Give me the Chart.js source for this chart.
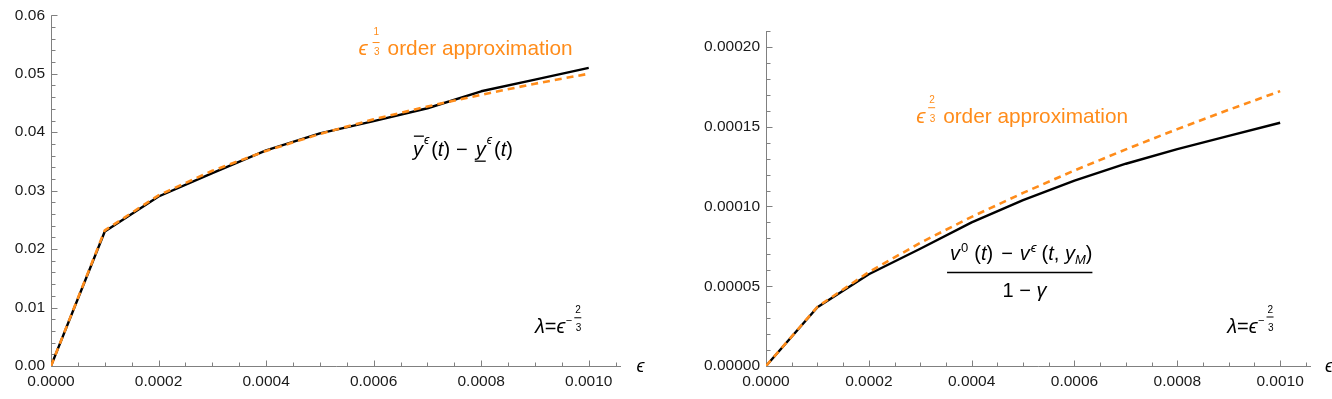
<!DOCTYPE html>
<html><head><meta charset="utf-8">
<script src="https://cdn.jsdelivr.net/npm/chart.js@4.4.1/dist/chart.umd.min.js"></script>
<style>
html,body{margin:0;padding:0;background:#fff;width:1332px;height:399px;overflow:hidden}
#l{position:absolute;left:0;top:0}
#r{position:absolute;left:666px;top:0}
</style></head><body>
<canvas id="l" width="666" height="399"></canvas>
<canvas id="r" width="666" height="399"></canvas>
<script>
// ---------- data ----------
const eps = [0, 0.0001, 0.0002, 0.0003, 0.0004, 0.0005, 0.0006, 0.0007, 0.0008, 0.0009, 0.0010];
const leftExact  = [0, 0.0230, 0.0290, 0.0330, 0.0369, 0.0398, 0.0419, 0.0441, 0.0470, 0.0490, 0.0510];
const leftApprox = [0, 0.0232, 0.0292, 0.0334, 0.0368, 0.0397, 0.0422, 0.0444, 0.0464, 0.0483, 0.0500];
const rightExact  = [0, 0.0000368, 0.0000575, 0.0000735, 0.0000900, 0.0001040, 0.0001162, 0.0001268, 0.0001360, 0.0001443, 0.0001525];
const rightApprox = [0, 0.0000371, 0.0000589, 0.0000772, 0.0000935, 0.0001085, 0.0001226, 0.0001358, 0.0001485, 0.0001606, 0.0001723];

const xTicks = [0, 0.0002, 0.0004, 0.0006, 0.0008, 0.0010];
const xTickLabels = ['0.0000', '0.0002', '0.0004', '0.0006', '0.0008', '0.0010'];
const leftYTicks = [0, 0.01, 0.02, 0.03, 0.04, 0.05, 0.06];
const leftYTickLabels = ['0.00', '0.01', '0.02', '0.03', '0.04', '0.05', '0.06'];
const rightYTicks = [0, 0.00005, 0.00010, 0.00015, 0.00020];
const rightYTickLabels = ['0.00000', '0.00005', '0.00010', '0.00015', '0.00020'];

// ---------- style ----------
const ORANGE = '#ff8c1a';
const AXIS = '#808080';
const FONT = '"Liberation Sans", Arial, "DejaVu Sans", sans-serif';
const EPS = '\u03F5';
const X_MAX = 0.00106;
const LBL = '20.8px ';

function fillT(ctx, t, x, y, font, color) {
  ctx.font = font; ctx.fillStyle = color; ctx.fillText(t, x, y);
  return ctx.measureText(t).width;
}
function seq(ctx, x, y, parts) {
  let cx = x;
  for (const p of parts) {
    cx += p.dx || 0;
    const w = fillT(ctx, p.t, cx, y + (p.dy || 0), p.f, p.c || '#000');
    cx += w;
  }
  return cx;
}
function hline(ctx, x1, x2, y, w, c) {
  ctx.strokeStyle = c; ctx.lineWidth = w;
  ctx.beginPath(); ctx.moveTo(x1, y); ctx.lineTo(x2, y); ctx.stroke();
}
function smallFrac(ctx, x, y, num, den, c, numDy, barDy, denDy) {
  const f = '10px ' + FONT;
  fillT(ctx, num, x + 1, y + numDy, f, c);
  hline(ctx, x, x + 7, y + barDy + 0.5, 1, c);
  fillT(ctx, den, x + 1.5, y + denDy, f, c);
}
function lambdaLabel(ctx, x, y) {
  let cx = seq(ctx, x, y, [
    {t: '\u03BB', f: 'italic 20px ' + FONT},
    {t: '=', f: '20px ' + FONT},
    {t: EPS, f: 'italic 20px ' + FONT}
  ]);
  fillT(ctx, '\u2212', cx + 0.5, y - 9, '11px ' + FONT, '#000');
  smallFrac(ctx, cx + 9, y, '2', '3', '#000', -20, -16, -2);
}

function axesPlugin(cfg) {
  return {
    id: 'mAxes',
    beforeDatasetsDraw(chart) {
      const ctx = chart.ctx, xs = chart.scales.x, ys = chart.scales.y, a = chart.chartArea;
      const x0 = Math.round(xs.getPixelForValue(0)) + 0.5;
      const y0 = Math.round(ys.getPixelForValue(0)) + 0.5;
      ctx.save();
      ctx.strokeStyle = AXIS; ctx.lineWidth = 1;
      ctx.beginPath();
      ctx.moveTo(x0, a.top); ctx.lineTo(x0, y0); ctx.lineTo(a.right, y0);
      ctx.stroke();
      ctx.beginPath();
      for (let k = 0; k * 0.00005 <= X_MAX + 1e-12; k++) {
        const v = k * 0.00005;
        const px = Math.round(xs.getPixelForValue(v)) + 0.5;
        const len = (k % 4 === 0) ? 6 : 4;
        ctx.moveTo(px, y0); ctx.lineTo(px, y0 - len);
      }
      for (let k = 0; k * cfg.yMinor <= cfg.ymax + 1e-12; k++) {
        const v = k * cfg.yMinor;
        const py = Math.round(ys.getPixelForValue(v)) + 0.5;
        const len = (k % 5 === 0) ? 6 : 4;
        ctx.moveTo(x0, py); ctx.lineTo(x0 + len, py);
      }
      ctx.stroke();
      ctx.restore();
    },
    afterDraw(chart) {
      const ctx = chart.ctx, xs = chart.scales.x, ys = chart.scales.y;
      ctx.save();
      ctx.textBaseline = 'alphabetic'; ctx.textAlign = 'left';
      cfg.annotate(ctx, (vx) => xs.getPixelForValue(vx), (vy) => ys.getPixelForValue(vy), chart);
      ctx.restore();
    }
  };
}

function makeChart(id, cfg) {
  const tickFont = {family: FONT, size: 15.5};
  return new Chart(document.getElementById(id), {
    type: 'scatter',
    data: {
      datasets: [
        {data: eps.map((x, i) => ({x, y: cfg.approx[i]})), showLine: true, borderColor: ORANGE,
         borderWidth: 2.6, borderDash: [7, 5], pointRadius: 0, order: 0, borderJoinStyle: 'round'},
        {data: eps.map((x, i) => ({x, y: cfg.exact[i]})), showLine: true, borderColor: '#000',
         borderWidth: 2.4, pointRadius: 0, order: 1, borderJoinStyle: 'round'}
      ]
    },
    options: {
      responsive: false, animation: false, devicePixelRatio: 1,
      layout: {padding: {top: cfg.top, right: cfg.right, left: 0, bottom: 0}},
      plugins: {legend: {display: false}, tooltip: {enabled: false}},
      scales: {
        x: {
          type: 'linear', min: 0, max: X_MAX,
          grid: {display: false, drawTicks: false}, border: {display: false},
          afterFit(s) { s.height = 33; },
          afterBuildTicks(s) { s.ticks = xTicks.map(v => ({value: v})); },
          ticks: {callback: (v, i) => xTickLabels[i], padding: 6, font: tickFont, color: '#1a1a1a',
                  maxRotation: 0, autoSkip: false}
        },
        y: {
          type: 'linear', min: 0, max: cfg.ymax,
          grid: {display: false, drawTicks: false}, border: {display: false},
          afterFit(s) { s.width = cfg.yw; },
          afterBuildTicks(s) { s.ticks = cfg.yTicks.map(v => ({value: v})); },
          ticks: {callback: (v, i) => cfg.yLabels[i], padding: 6, font: tickFont, color: '#1a1a1a', autoSkip: false}
        }
      }
    },
    plugins: [axesPlugin(cfg)]
  });
}

// ---------- left chart ----------
makeChart('l', {
  exact: leftExact, approx: leftApprox, ymax: 0.06, yMinor: 0.002,
  yTicks: leftYTicks, yLabels: leftYTickLabels, top: 14, right: 45, yw: 51,
  annotate(ctx, X, Y) {
    let x = X(0.000572), y = Y(0.0532);
    fillT(ctx, EPS, x, y, 'italic ' + LBL + FONT, ORANGE);
    smallFrac(ctx, x + 14, y, '1', '3', ORANGE, -20, -13, 0);
    fillT(ctx, 'order approximation', x + 29, y, LBL + FONT, ORANGE);
    x = X(0.000673); y = Y(0.0359);
    const fi = 'italic 20px ' + FONT, fn = '20px ' + FONT, fs = 'italic 12px ' + FONT;
    let w = fillT(ctx, 'y', x, y, fi, '#000');
    hline(ctx, x + 1, x + 11, y - 20, 1.3, '#000');
    let cx = x + w + 1;
    cx += fillT(ctx, EPS, cx, y - 12, fs, '#000');
    cx = seq(ctx, cx + 2, y, [{t: '(', f: fn}, {t: 't', f: fi}, {t: ')', f: fn}]);
    cx += 6;
    cx += fillT(ctx, '\u2212', cx, y, fn, '#000');
    cx += 8;
    w = fillT(ctx, 'y', cx, y, fi, '#000');
    hline(ctx, cx - 1, cx + 10, y + 5, 1.3, '#000');
    cx += w + 1;
    cx += fillT(ctx, EPS, cx, y - 12, fs, '#000');
    seq(ctx, cx + 2, y, [{t: '(', f: fn}, {t: 't', f: fi}, {t: ')', f: fn}]);
    lambdaLabel(ctx, X(0.000900), Y(0.0056));
    fillT(ctx, EPS, X(0.001089), Y(-0.0011), 'italic 18px ' + FONT, '#000');
  }
});

// ---------- right chart ----------
makeChart('r', {
  exact: rightExact, approx: rightApprox, ymax: 0.00021, yMinor: 0.00001,
  yTicks: rightYTicks, yLabels: rightYTickLabels, top: 31, right: 21, yw: 100,
  annotate(ctx, X, Y) {
    let x = X(0.000292), y = Y(0.0001522);
    fillT(ctx, EPS, x, y, 'italic ' + LBL + FONT, ORANGE);
    smallFrac(ctx, x + 12, y, '2', '3', ORANGE, -20, -16, -1);
    fillT(ctx, 'order approximation', x + 27, y, LBL + FONT, ORANGE);
    const fi = 'italic 20px ' + FONT, fn = '20px ' + FONT, fs = '13px ' + FONT, fsi = 'italic 13px ' + FONT;
    x = X(0.000358); y = Y(0.0000663);
    let cx = x;
    cx += fillT(ctx, 'v', cx, y, fi, '#000');
    cx += 1;
    cx += fillT(ctx, '0', cx, y - 8, fs, '#000');
    cx = seq(ctx, cx + 6, y, [{t: '(', f: fn}, {t: 't', f: fi}, {t: ')', f: fn}]);
    cx += 8;
    cx += fillT(ctx, '\u2212', cx, y, fn, '#000');
    cx += 7;
    cx += fillT(ctx, 'v', cx, y, fi, '#000');
    cx += 1;
    cx += fillT(ctx, EPS, cx, y - 8, fsi, '#000');
    cx = seq(ctx, cx + 5, y, [{t: '(', f: fn}, {t: 't', f: fi}, {t: ', ', f: fn}, {t: 'y', f: fi}]);
    cx += fillT(ctx, 'M', cx, y + 4, fsi, '#000');
    cx += fillT(ctx, ')', cx, y, fn, '#000');
    const ly = Y(0.0000588);
    hline(ctx, x - 3, cx, Math.round(ly) + 0.5, 1.6, '#000');
    const dx = X(0.000460), dy = Y(0.0000430);
    seq(ctx, dx, dy, [{t: '1', f: fn}, {t: ' \u2212 ', f: fn}, {t: '\u03B3', f: fi}]);
    lambdaLabel(ctx, X(0.000897), Y(0.0000210));
    fillT(ctx, EPS, X(0.001087), Y(-0.0000040), 'italic 18px ' + FONT, '#000');
  }
});
</script>
</body></html>
